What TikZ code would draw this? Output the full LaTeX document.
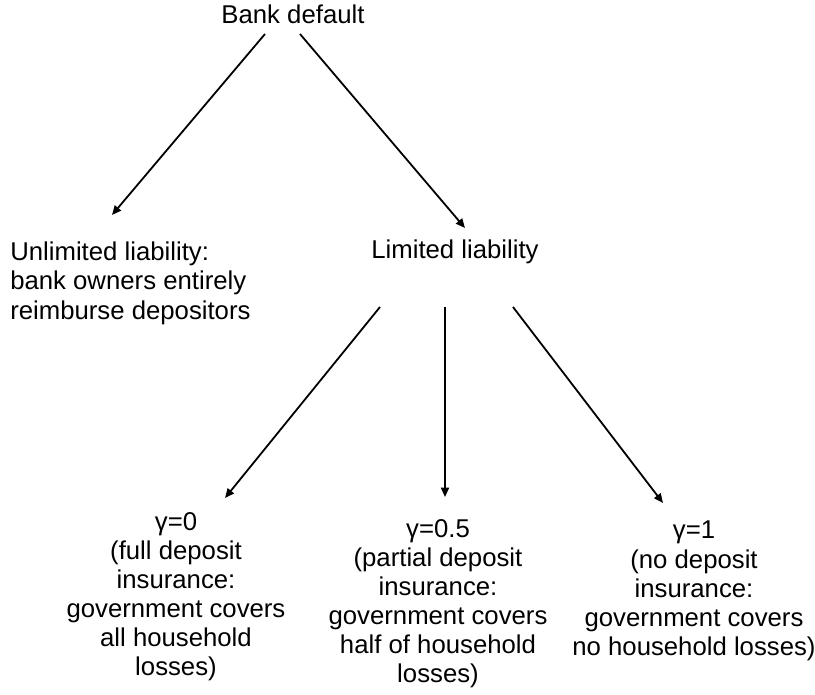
\documentclass[tikz,border=0pt]{standalone}
\usepackage{fontspec}
\setmainfont{Liberation Sans}
\usetikzlibrary{arrows.meta,calc}

\tikzset{
    lbl/.style={inner sep=0pt, font=\fontsize{19.3}{21.8}\selectfont},
    arr/.style={line width=1.35pt, -{Triangle[length=7pt,width=6pt]}}
}

\begin{document}
\begin{tikzpicture}[x=0.75pt,y=-0.75pt]
        \useasboundingbox (0,0) rectangle (815,695);

        % top and second level
        \node[lbl] (bank) at (293,14) {Bank default};
        \node[lbl,anchor=north west,align=left] (unlim) at (10,242)
            {Unlimited liability:\\bank owners entirely\\reimburse depositors};
        \node[lbl] (lim) at (455,252) {Limited liability};

        % three cases of gamma
        \node[lbl,anchor=north,align=center] (g0) at (176,512)
            {γ=0\\(full deposit\\insurance:\\government covers\\all household\\losses)};
        \node[lbl,anchor=north,align=center] (ghalf) at (438,519)
            {γ=0.5\\(partial deposit\\insurance:\\government covers\\half of household\\losses)};
        \node[lbl,anchor=north,align=center] (g1) at (694,521)
            {γ=1\\(no deposit\\insurance:\\government covers\\no household losses)};

        \draw[arr] ($(bank)+(-28,20)$) -- ($(unlim.north west)+(102,-27)$);
        \draw[arr] ($(bank)+(7,20)$) -- ($(lim)+(10,-24)$);

        \draw[arr] ($(lim)+(-75,55)$) -- ($(g0.north)+(49,-14)$);
        \draw[arr] ($(lim)+(-10,55)$) -- ($(ghalf.north)+(7,-22)$);
        \draw[arr] ($(lim)+(58,55)$) -- ($(g1.north)+(-31,-18)$);
    \end{tikzpicture}
\end{document}
